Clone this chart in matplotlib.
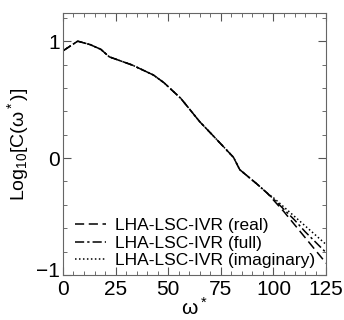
import numpy as np
import matplotlib.pyplot as plt
import matplotlib.transforms as mtransforms

plt.rcParams['font.family'] = ['Liberation Sans', 'DejaVu Sans']
plt.rcParams['mathtext.fontset'] = 'custom'
plt.rcParams['mathtext.rm'] = 'Liberation Sans'
plt.rcParams['mathtext.it'] = 'Liberation Sans'

# shared part of the curve
w_common = [0, 7, 13, 18, 22, 26, 33, 43, 48, 56, 65, 71, 81, 84, 92, 97]
c_common = [0.917, 1.0, 0.97, 0.93, 0.866, 0.84, 0.795, 0.71, 0.644, 0.51,
            0.31, 0.197, 0.006, -0.10, -0.22, -0.30]

# tails where the three versions split
w_tail = [100, 105, 110, 115, 120, 125]
c_real = [-0.36, -0.46, -0.57, -0.68, -0.79, -0.90]
c_full = [-0.35, -0.44, -0.53, -0.63, -0.72, -0.81]
c_imag = [-0.34, -0.42, -0.50, -0.58, -0.66, -0.74]

labels = ['LHA-LSC-IVR (real)', 'LHA-LSC-IVR (full)', 'LHA-LSC-IVR (imaginary)']
styles = [(0, (6, 3)), (0, (6, 2, 1.5, 2)), (0, (1, 1.6))]

fig = plt.figure(figsize=(3.44, 3.2), dpi=100)
ax = fig.add_axes([0.183, 0.141, 0.765, 0.818])

w = w_common + w_tail
for tail, ls, lab in zip([c_real, c_full, c_imag], styles, labels):
    ax.plot(w, c_common + tail, color='black', lw=1.1, linestyle=ls, label=lab)

ax.set_xlim(0, 125)
ax.set_ylim(-1, 1.24)
ax.set_xticks([0, 25, 50, 75, 100, 125])
ax.set_xticks(np.arange(0, 126, 5), minor=True)
ax.set_yticks([-1, 0, 1])
ax.set_yticks(np.arange(-1, 1.21, 0.2), minor=True)
ax.tick_params(which='both', direction='in', top=True, right=True,
               labelsize=15, color='#555555')
ax.tick_params(axis='x', pad=4)
ax.tick_params(axis='y', pad=2)
ax.tick_params(which='major', length=6)
ax.tick_params(which='minor', length=3)
for s in ax.spines.values():
    s.set_color('#666666')

# nudge the "-1" label up a little so it sits beside the x "0"
fig.canvas.draw()
lab_m1 = ax.get_yticklabels()[0]
lab_m1.set_transform(lab_m1.get_transform() +
                     mtransforms.ScaledTranslation(0, 4 / 72, fig.dpi_scale_trans))

ax.set_xlabel(r'$\omega^*$', fontsize=15, labelpad=-2)
ax.set_ylabel(r'Log$_{10}$[C($\omega^*$)]', fontsize=14, labelpad=4)

ax.legend(loc='lower left', frameon=False, fontsize=12.5, handlelength=1.8,
          handletextpad=0.5, labelspacing=0.12, borderaxespad=0.1,
          borderpad=0.3, bbox_to_anchor=(0.02, 0.0))

fig.savefig('out.png', dpi=100)
